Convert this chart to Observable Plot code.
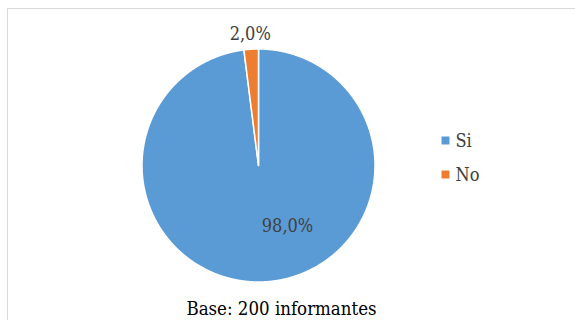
<!DOCTYPE html>
<html>
<head>
<meta charset="utf-8">
<script src="https://cdn.jsdelivr.net/npm/d3@7"></script>
<script src="https://cdn.jsdelivr.net/npm/@observablehq/plot@0.6"></script>
<style>
  html, body { margin: 0; padding: 0; background: #fff; overflow: hidden; }
  #wrap { position: relative; width: 575px; height: 320px; }
  #border { position: absolute; left: 7px; top: 8px; width: 600px; height: 340px; border: 1px solid #d9d9d9; box-sizing: border-box; }
  #chart { position: absolute; left: 0; top: 0; }
  #chart svg text { font-stretch: condensed; }
</style>
</head>
<body>
<div id="wrap"><div id="border"></div><div id="chart"></div></div>
<script>
const categories = ["Si", "No"];
const values = [98.0, 2.0];
const valueLabels = ["98,0%", "2,0%"];
const colors = ["#5B9BD5", "#ED7D31"];
const caption = "Base: 200 informantes";

const rows = categories.map((c, i) => ({category: c, value: values[i], label: valueLabels[i]}));
const slices = d3.pie().sort(null).value(d => d.value)(rows);

const pts = [];
for (const s of slices) {
  const c = s.data.category;
  pts.push({category: c, x: 0, y: 0});
  const n = Math.max(4, Math.ceil((s.endAngle - s.startAngle) / (Math.PI / 720)));
  for (let j = 0; j <= n; j++) {
    const a = s.startAngle + (s.endAngle - s.startAngle) * j / n;
    pts.push({category: c, x: Math.sin(a), y: Math.cos(a)});
  }
  pts.push({category: c, x: 0, y: 0});
}

const big = slices[0];
const small = slices[1];
const smallMid = (small.startAngle + small.endAngle) / 2;
const outside = [{label: small.data.label, x: 1.13 * Math.sin(smallMid), y: 1.13 * Math.cos(smallMid)}];

const fontFamily = "'DejaVu Serif Condensed', 'DejaVu Serif'";

const legendMarks = categories.flatMap((c, i) => [
  Plot.dot([c], {frameAnchor: "top-left", dx: 303.5, dy: 91.5 + i * 34, symbol: "square", r: 4.5, fill: d => d, stroke: null}),
  Plot.text([c], {frameAnchor: "top-left", dx: 313.5, dy: 92.5 + i * 34, text: d => d, textAnchor: "start", lineAnchor: "middle", fontSize: 18, fontFamily, fill: "#404040"})
]);

const chart = Plot.plot({
  width: 575,
  height: 320,
  marginLeft: 141.5,
  marginRight: 200.5,
  marginTop: 48.5,
  marginBottom: 38.5,
  x: {domain: [-1, 1], axis: null},
  y: {domain: [-1, 1], axis: null},
  color: {domain: categories, range: colors},
  style: {background: "transparent", overflow: "visible"},
  marks: [
    Plot.line(pts, {x: "x", y: "y", z: "category", fill: "category", stroke: "white", strokeWidth: 1.5, curve: "linear"}),
    Plot.text([big.data], {x: () => 0, y: () => 0, dx: 29, dy: 61, text: "label", fontSize: 18, fontFamily, fill: "#404040", lineAnchor: "middle"}),
    Plot.text(outside, {x: "x", y: "y", text: "label", fontSize: 18, fontFamily, fill: "#404040", lineAnchor: "middle"}),
    ...legendMarks,
    Plot.text([caption], {frameAnchor: "bottom", dx: 23, dy: 27.5, text: d => d, fontSize: 18.5, fontFamily, fill: "#000", lineAnchor: "middle"})
  ]
});
document.getElementById("chart").appendChild(chart);
</script>
</body>
</html>
